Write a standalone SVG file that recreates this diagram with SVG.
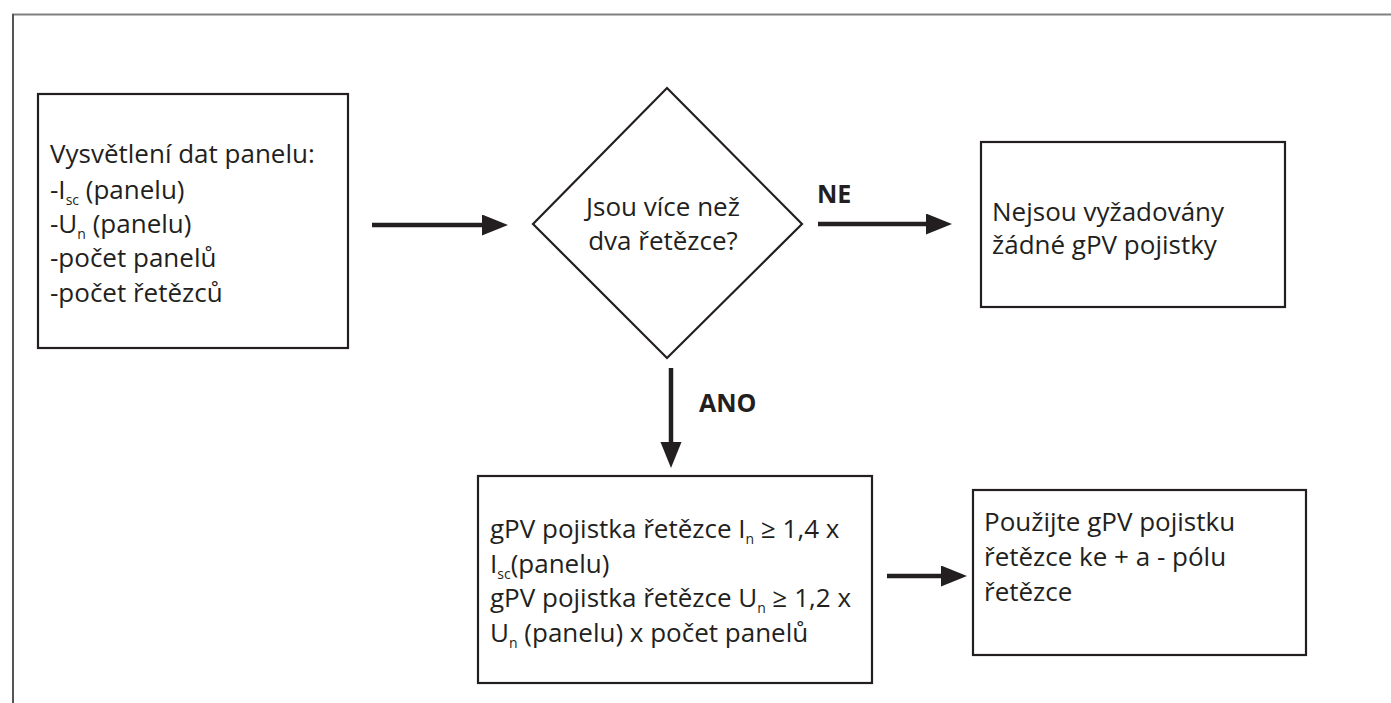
<svg xmlns="http://www.w3.org/2000/svg" width="1391" height="703" viewBox="0 0 1391 703">
<style>
  .box { fill: #ffffff; stroke: #231f20; stroke-width: 2.2; }
  .t { font-family: "Open Sans", "Noto Sans", "DejaVu Sans", sans-serif; font-size: 26px; fill: #231f20; }
  .lbl { font-family: "Open Sans", "Noto Sans", "DejaVu Sans", sans-serif; font-size: 25px; font-weight: bold; fill: #231f20; }
  .sub { font-size: 14px; }
  .conn { stroke: #231f20; stroke-width: 4.5; fill: none; }
</style>
<defs>
  <marker id="arrow" markerUnits="userSpaceOnUse" markerWidth="27" markerHeight="22" refX="0" refY="10.5" orient="auto">
    <path d="M0,0 L26,10.5 L0,21 Z" fill="#231f20"/>
  </marker>
</defs>
<rect x="0" y="0" width="1391" height="703" fill="#ffffff"/>
<g id="frame">
  <line x1="12" y1="14.5" x2="1391" y2="14.5" stroke="#808080" stroke-width="2"/>
  <line x1="13" y1="14" x2="13" y2="703" stroke="#555555" stroke-width="2"/>
</g>
<g id="connectors">
  <line class="conn" x1="372" y1="225" x2="482" y2="225" marker-end="url(#arrow)"/>
  <line class="conn" x1="818" y1="224" x2="926" y2="224" marker-end="url(#arrow)"/>
  <line class="conn" x1="671" y1="368" x2="671" y2="442" marker-end="url(#arrow)"/>
  <line class="conn" x1="887" y1="576" x2="941" y2="576" marker-end="url(#arrow)"/>
  <text class="lbl" x="817" y="203">NE</text>
  <text class="lbl" x="699" y="412">ANO</text>
</g>
<g id="node-input">
  <rect class="box" x="38" y="94" width="310" height="254"/>
  <text class="t" x="50" y="163">Vysvětlení dat panelu:</text>
  <text class="t" x="50" y="199">-I<tspan class="sub" dy="6">sc</tspan><tspan dy="-6"> (panelu)</tspan></text>
  <text class="t" x="50" y="233">-U<tspan class="sub" dy="6">n</tspan><tspan dy="-6"> (panelu)</tspan></text>
  <text class="t" x="50" y="267">-počet panelů</text>
  <text class="t" x="50" y="302">-počet řetězců</text>
</g>
<g id="node-decision">
  <polygon class="box" points="667,88 802,224 667,358 533,224"/>
  <text class="t" x="663" y="216" text-anchor="middle">Jsou více než</text>
  <text class="t" x="663" y="250" text-anchor="middle">dva řetězce?</text>
</g>
<g id="node-no">
  <rect class="box" x="981" y="142" width="304" height="165"/>
  <text class="t" x="992" y="221">Nejsou vyžadovány</text>
  <text class="t" x="992" y="254">žádné gPV pojistky</text>
</g>
<g id="node-yes">
  <rect class="box" x="478" y="476" width="394" height="207"/>
  <text class="t" x="490" y="538">gPV pojistka řetězce I<tspan class="sub" dy="6">n</tspan><tspan dy="-6"> ≥ 1,4 x</tspan></text>
  <text class="t" x="490" y="573">I<tspan class="sub" dy="6">sc</tspan><tspan dy="-6">(panelu)</tspan></text>
  <text class="t" x="490" y="607">gPV pojistka řetězce U<tspan class="sub" dy="6">n</tspan><tspan dy="-6"> ≥ 1,2 x</tspan></text>
  <text class="t" x="490" y="642">U<tspan class="sub" dy="6">n</tspan><tspan dy="-6"> (panelu) x počet panelů</tspan></text>
</g>
<g id="node-use">
  <rect class="box" x="973" y="490" width="333" height="165"/>
  <text class="t" x="984" y="531">Použijte gPV pojistku</text>
  <text class="t" x="984" y="566">řetězce ke + a - pólu</text>
  <text class="t" x="984" y="601">řetězce</text>
</g>
</svg>
